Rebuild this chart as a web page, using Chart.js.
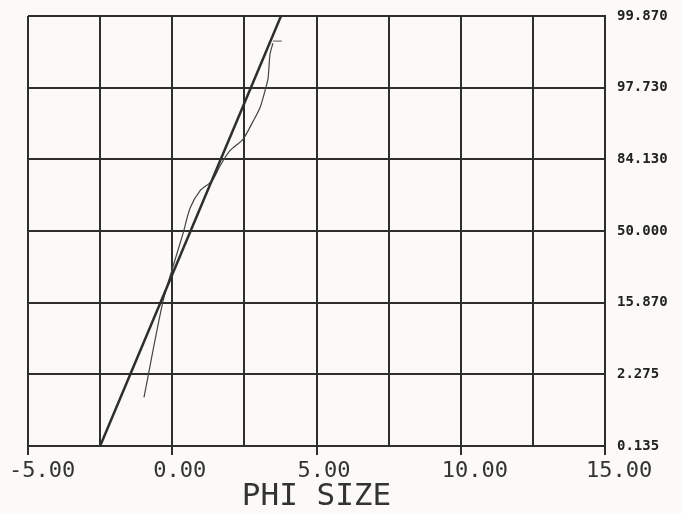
<!DOCTYPE html>
<html>
<head>
<meta charset="utf-8">
<script src="https://cdn.jsdelivr.net/npm/chart.js@4.4.1/dist/chart.umd.min.js"></script>
<style>
  html, body { margin: 0; padding: 0; background: #fbfaf6; }
  #wrap { width: 682px; height: 514px; }
</style>
</head>
<body>
<div id="wrap"><canvas id="myChart"></canvas></div>
<script>
// probability axis: position in sigma units -> printed cumulative percent
const sigmaTicks = [-3, -2, -1, 0, 1, 2, 3];
const percentLabels = ['0.135', '2.275', '15.870', '50.000', '84.130', '97.730', '99.870'];

// measured cumulative curve (phi, sigma)
const samplePhi = [-0.98, -0.32, 0.03, 0.37, 0.62, 0.96, 1.38, 1.66, 2.00, 2.45, 2.80, 3.04, 3.21, 3.32, 3.39, 3.49];
const sampleSigma = [-2.32, -0.98, -0.49, -0.04, 0.32, 0.56, 0.70, 0.91, 1.12, 1.28, 1.53, 1.72, 1.95, 2.13, 2.47, 2.62];

// fitted normal line
const fitPhi = [-2.5, 3.77];
const fitSigma = [-3, 3];

// small end marker at top of curve
const markPhi = [3.49, 3.80];
const markSigma = [2.65, 2.65];

const ink = '#2e2e2e';
const ctx = document.getElementById('myChart');

function pts(xs, ys) {
  return xs.map((x, i) => ({ x: x, y: ys[i] }));
}

new Chart(ctx, {
  type: 'scatter',
  data: {
    datasets: [{
      data: pts(fitPhi, fitSigma),
      showLine: true,
      borderColor: ink,
      borderWidth: 2.5,
      pointRadius: 0
    }, {
      data: pts(samplePhi, sampleSigma),
      showLine: true,
      borderColor: '#444',
      borderWidth: 1.2,
      tension: 0.3,
      pointRadius: 0
    }, {
      data: pts(markPhi, markSigma),
      showLine: true,
      borderColor: '#555',
      borderWidth: 1,
      pointRadius: 0
    }]
  },
  options: {
    animation: false,
    responsive: true,
    maintainAspectRatio: false,
    layout: { autoPadding: false, padding: { top: 16, left: 28, right: 0, bottom: 0 } },
    plugins: { legend: { display: false }, tooltip: { enabled: false } },
    scales: {
      x: {
        type: 'linear',
        min: -5,
        max: 15,
        afterFit: s => { s.height = 68; s.paddingLeft = 0; s.paddingRight = 0; },
        border: { color: ink, width: 2 },
        grid: {
          color: ink,
          lineWidth: 2,
          tickLength: 9,
          tickColor: c => (c.tick && c.tick.value % 5 === 0) ? ink : 'rgba(0,0,0,0)'
        },
        ticks: {
          stepSize: 2.5,
          autoSkip: false,
          maxRotation: 0,
          padding: 3,
          align: 'start',
          labelOffset: -19,
          color: '#333',
          font: { family: 'DejaVu Sans Mono', size: 22 },
          callback: v => v % 5 === 0 ? v.toFixed(2) : ''
        },
        title: {
          display: true,
          text: 'PHI SIZE',
          color: '#333',
          padding: { top: 0, bottom: 0 },
          font: { family: 'DejaVu Sans Mono', size: 31, lineHeight: 1.1 }
        }
      },
      y: {
        type: 'linear',
        position: 'right',
        min: -3,
        max: 3,
        afterFit: s => { s.width = 77; s.paddingTop = 0; s.paddingBottom = 0; },
        afterBuildTicks: s => { s.ticks = sigmaTicks.map(v => ({ value: v })); },
        border: { color: ink, width: 2 },
        grid: { color: ink, lineWidth: 2, drawTicks: false },
        ticks: {
          padding: 12,
          color: '#222',
          font: { family: 'DejaVu Sans Mono', size: 14, weight: 'bold' },
          callback: v => percentLabels[sigmaTicks.indexOf(v)]
        }
      }
    }
  }
});
</script>
</body>
</html>
